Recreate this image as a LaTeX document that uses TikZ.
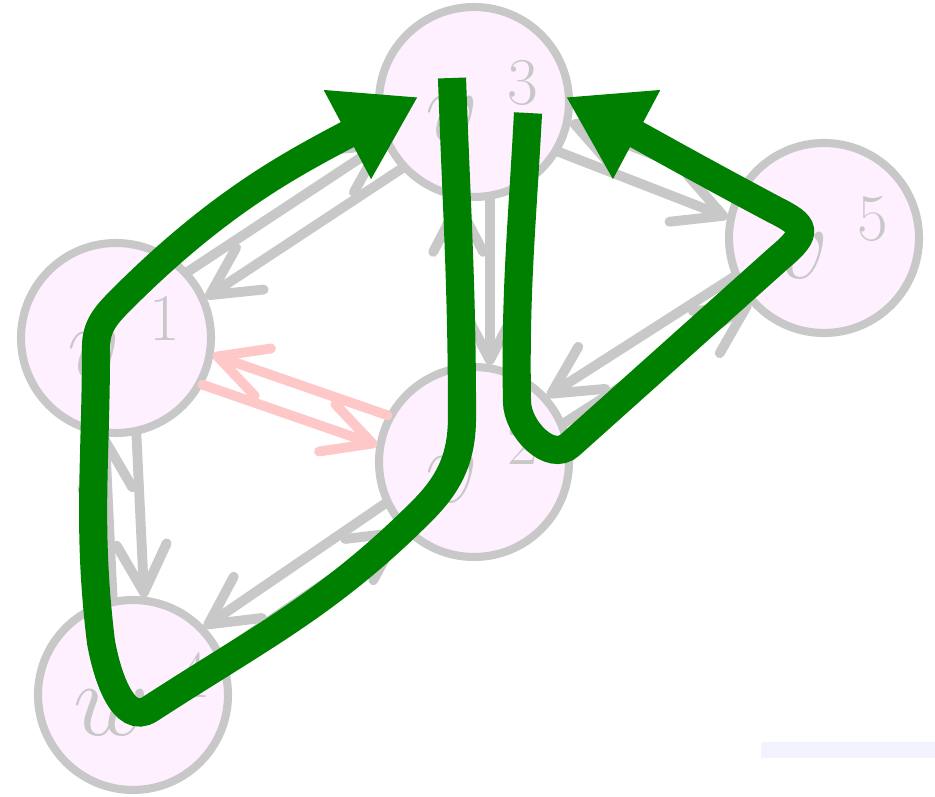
\RequirePackage{fix-cm}
\documentclass[tikz,border=0pt]{standalone}
\usepackage{amssymb}
\usetikzlibrary{arrows.meta,calc}
\DeclareMathSizes{30}{30}{19}{14}
\definecolor{nodegray}{RGB}{200,200,200}
\definecolor{nodepink}{RGB}{255,240,255}
\definecolor{edgered}{RGB}{255,200,200}
\definecolor{walkgreen}{RGB}{0,128,0}
\definecolor{barblue}{RGB}{243,243,255}
\newcommand{\vlab}[2]{$\kern5pt #1^{\kern8pt #2}$}

\begin{document}
\begin{tikzpicture}[
	vert/.style={circle, draw=nodegray, fill=nodepink, line width=2.3pt, minimum size=1.9cm, inner sep=0pt, text=nodegray, font=\fontsize{30}{32}\selectfont},
	arc/.style={line width=2.8pt, line cap=round, -{Straight Barb[length=4.8mm,width=5mm,round]}, shorten >=0.97cm, shorten <=0.97cm},
	walk/.style={draw=walkgreen, line width=8pt, -{Triangle[length=8mm,width=9.5mm]}}
]
\useasboundingbox (0,0) rectangle (9.35,7.97);
\fill[barblue] (7.61,0.39) rectangle (9.35,0.55);

\node[vert] (v1) at (1.16,4.59) {\vlab{v}{1}};
\node[vert] (v3) at (4.74,6.95) {\vlab{v}{3}};
\node[vert] (v5) at (8.24,5.59) {\vlab{v}{5}};
\node[vert] (v2) at (4.74,3.35) {\vlab{v}{2}};
\node[vert] (w4) at (1.33,1.02) {\vlab{w}{4}};

% arcs, each pair drawn side by side
\foreach \a/\b/\d in {v1/v3/4.5pt, v3/v1/4.5pt, v3/v5/-4.5pt, v5/v3/-4.5pt, v2/v3/4.5pt, v3/v2/4.5pt, v5/v2/-4.5pt, v2/v5/-4.5pt, v2/w4/-4.5pt, w4/v2/-4.5pt, v1/w4/4.5pt, w4/v1/4.5pt} {
	\draw[arc, nodegray] ($(\a.center)!\d!90:(\b.center)$) -- ($(\b.center)!\d!-90:(\a.center)$);
}
\foreach \a/\b in {v1/v2, v2/v1} {
	\draw[arc, edgered] ($(\a.center)!-4.5pt!90:(\b.center)$) -- ($(\b.center)!-4.5pt!-90:(\a.center)$);
}

% the two walks
\draw[walk] (4.52,7.19) to[out=-88,in=90] (4.62,3.80) to[out=-90,in=45] (4.22,2.86) to[out=225,in=33] (1.50,0.88) to[out=213,in=-80] (1.01,1.55) to[out=97,in=-90] (0.96,4.50) to[out=90,in=225] (1.22,4.98) to[out=45,in=208] (4.18,7.00);
\draw[walk] (5.28,6.84) to[out=-93,in=91] (5.17,3.95) to[out=-89,in=222] (5.70,3.52) -- (7.80,5.40) .. controls (8.10,5.65) and (8.05,5.72) .. (7.75,5.87) to[out=152,in=-28] (5.66,7.00);

\end{tikzpicture}
\end{document}
